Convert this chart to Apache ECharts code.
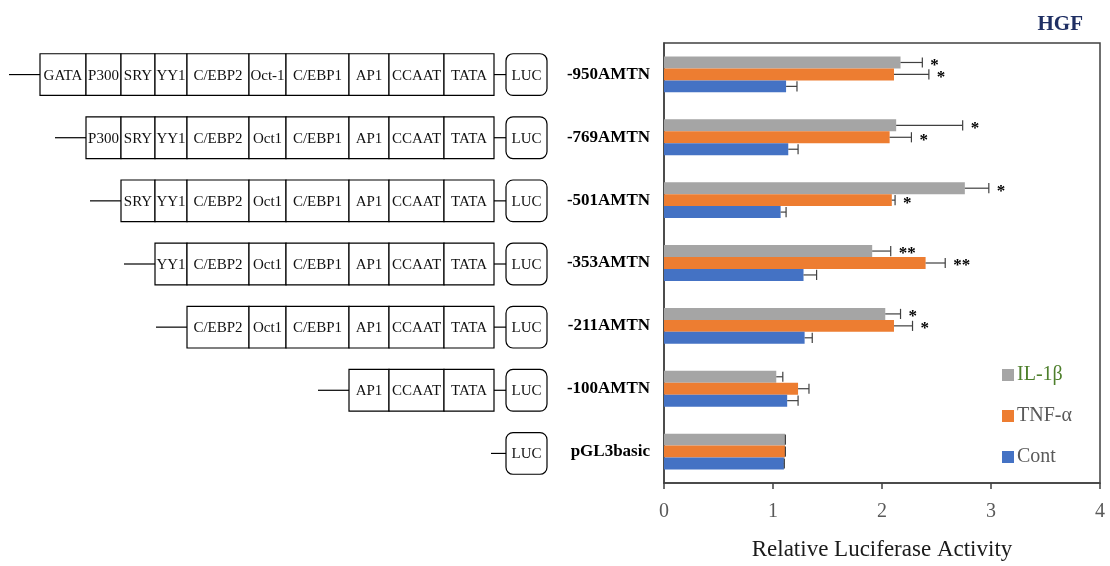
<!DOCTYPE html>
<html><head><meta charset="utf-8">
<script src="https://cdn.jsdelivr.net/npm/echarts@6/dist/echarts.min.js"></script>
<style>html,body{margin:0;padding:0;background:#fff}#c{width:1110px;height:566px}</style>
</head><body><div id="c"></div>
<script>
// ---------- data ----------
const constructs = ['-950AMTN','-769AMTN','-501AMTN','-353AMTN','-211AMTN','-100AMTN','pGL3basic'];
const contValues = [1.12, 1.14, 1.07, 1.28, 1.29, 1.13, 1.10];
const contErrors = [0.10, 0.09, 0.05, 0.12, 0.07, 0.10, 0.004];
const tnfValues  = [2.11, 2.07, 2.09, 2.40, 2.11, 1.23, 1.11];
const tnfErrors  = [0.32, 0.20, 0.03, 0.18, 0.17, 0.10, 0.004];
const ilValues   = [2.17, 2.13, 2.76, 1.91, 2.03, 1.03, 1.11];
const ilErrors   = [0.20, 0.61, 0.22, 0.17, 0.14, 0.06, 0.004];
const contSignif = ['', '', '', '', '', '', ''];
const tnfSignif  = ['*', '*', '*', '**', '*', '', ''];
const ilSignif   = ['*', '*', '*', '**', '*', '', ''];
const xTickValues = [0, 1, 2, 3, 4];
const seriesNames = ['IL-1β', 'TNF-α', 'Cont'];
// promoter schematic: elements in each construct (upstream -> TATA) and their schematic span
const promoterElements = ['GATA','P300','SRY','YY1','C/EBP2','Oct1','C/EBP1','AP1','CCAAT','TATA'];
const promoterSpans    = [46, 35, 34, 32, 62, 37, 63, 40, 55, 50];
const constructElements = [
  ['GATA','P300','SRY','YY1','C/EBP2','Oct-1','C/EBP1','AP1','CCAAT','TATA'],
  ['P300','SRY','YY1','C/EBP2','Oct1','C/EBP1','AP1','CCAAT','TATA'],
  ['SRY','YY1','C/EBP2','Oct1','C/EBP1','AP1','CCAAT','TATA'],
  ['YY1','C/EBP2','Oct1','C/EBP1','AP1','CCAAT','TATA'],
  ['C/EBP2','Oct1','C/EBP1','AP1','CCAAT','TATA'],
  ['AP1','CCAAT','TATA'],
  []
];
const reporterName = 'LUC';

// ---------- drawing ----------
const SERIF = '"Liberation Serif", "Times New Roman", serif';
const BAR_RATIO = 0.19;
const TATA_END = 494, LUC_START = 506, LUC_END = 547, LEADER = 31;

function spanOf(name) {
  return promoterSpans[promoterElements.indexOf(name.replace('-', ''))];
}

function renderConstruct(params, api) {
  const row = api.value(0);
  const names = constructElements[row];
  const bandH = api.size([0, 1])[1];
  const cy = api.coord([0, row])[1];
  const boxH = bandH * 0.66;
  const X = v => api.coord([v, row])[0];
  const ls = { stroke: '#000', lineWidth: 1.2, fill: null };
  const children = [];
  if (names.length) {
    const total = names.reduce((s, n) => s + spanOf(n), 0);
    let x = TATA_END - total;
    children.push({ type: 'line', shape: { x1: X(x - LEADER), y1: cy, x2: X(x), y2: cy }, style: ls });
    names.forEach(n => {
      const w = spanOf(n);
      children.push({ type: 'rect', shape: { x: X(x), y: cy - boxH / 2, width: X(x + w) - X(x), height: boxH },
        style: { fill: '#fff', stroke: '#000', lineWidth: 1.2 } });
      children.push({ type: 'text', x: (X(x) + X(x + w)) / 2, y: cy + 1,
        style: { text: n, align: 'center', verticalAlign: 'middle', fontSize: 15, fontFamily: SERIF, fill: '#111' } });
      x += w;
    });
    children.push({ type: 'line', shape: { x1: X(TATA_END), y1: cy, x2: X(LUC_START), y2: cy }, style: ls });
  } else {
    children.push({ type: 'line', shape: { x1: X(LUC_START - 15), y1: cy, x2: X(LUC_START), y2: cy }, style: ls });
  }
  children.push({ type: 'rect', shape: { x: X(LUC_START), y: cy - boxH / 2, width: X(LUC_END) - X(LUC_START), height: boxH, r: 7 },
    style: { fill: '#fff', stroke: '#000', lineWidth: 1.2 } });
  children.push({ type: 'text', x: (X(LUC_START) + X(LUC_END)) / 2, y: cy + 1,
    style: { text: reporterName, align: 'center', verticalAlign: 'middle', fontSize: 15, fontFamily: SERIF, fill: '#111' } });
  return { type: 'group', children };
}

function errorSeries(values, errors, signif, slot) {
  return {
    type: 'custom', xAxisIndex: 0, yAxisIndex: 0, z: 5, silent: true,
    data: values.map((v, i) => [v, i, errors[i]]),
    encode: { x: 0, y: 1 },
    renderItem: (params, api) => {
      const v = api.value(0), c = api.value(1), e = api.value(2);
      const bandH = api.size([0, 1])[1];
      const barH = bandH * BAR_RATIO;
      const p1 = api.coord([v, c]);
      const p2 = api.coord([v + e, c]);
      const cy = p1[1] + slot * barH;
      const cap = barH * 0.85;
      const st = { stroke: '#404040', lineWidth: 1.2 };
      const ch = [
        { type: 'line', shape: { x1: p1[0], y1: cy, x2: p2[0], y2: cy }, style: st },
        { type: 'line', shape: { x1: p2[0], y1: cy - cap / 2, x2: p2[0], y2: cy + cap / 2 }, style: st }
      ];
      const s = signif[c];
      if (s) {
        ch.push({ type: 'text', x: p2[0] + 8, y: cy + 3,
          style: { text: s, align: 'left', verticalAlign: 'middle', fontSize: 17, fontWeight: 'bold', fontFamily: SERIF, fill: '#000' } });
      }
      return { type: 'group', children: ch };
    }
  };
}

const colors = { 'IL-1β': '#A5A5A5', 'TNF-α': '#ED7D31', 'Cont': '#4472C4' };
const barValues = { 'IL-1β': ilValues, 'TNF-α': tnfValues, 'Cont': contValues };

const chart = echarts.init(document.getElementById('c'), null, { renderer: 'canvas' });
chart.setOption({
  animation: false,
  backgroundColor: '#fff',
  title: { text: 'HGF', right: 22, top: 9,
    textStyle: { fontFamily: SERIF, fontWeight: 'bold', fontSize: 21, color: '#1F2F63' } },
  legend: {
    orient: 'vertical', left: 997, top: 360, itemWidth: 12, itemHeight: 12, itemGap: 21,
    icon: 'rect',
    data: [
      { name: 'IL-1β', textStyle: { color: '#4E7F2C' } },
      { name: 'TNF-α' },
      { name: 'Cont' }
    ],
    textStyle: { fontFamily: SERIF, fontSize: 20, color: '#595959', lineHeight: 18, padding: [0, 0, 0, -2] }
  },
  grid: [
    { left: 664, right: 10, top: 43, bottom: 81, show: true, borderColor: '#404040', borderWidth: 1.5, containLabel: false },
    { left: 0, width: 547, top: 43, bottom: 81, containLabel: false }
  ],
  xAxis: [
    { type: 'value', gridIndex: 0, min: xTickValues[0], max: xTickValues[xTickValues.length - 1], interval: 1,
      splitLine: { show: false },
      axisLine: { show: true, lineStyle: { color: '#404040', width: 1.5 } },
      axisTick: { show: true, length: 6, lineStyle: { color: '#404040', width: 1.5 } },
      axisLabel: { fontFamily: SERIF, fontSize: 20, color: '#595959', margin: 19 },
      name: 'Relative Luciferase Activity', nameLocation: 'middle', nameGap: 55,
      nameTextStyle: { fontFamily: SERIF, fontSize: 23, color: '#1a1a1a' } },
    { type: 'value', gridIndex: 1, min: 0, max: 547, show: false }
  ],
  yAxis: [
    { type: 'category', gridIndex: 0, data: constructs, inverse: true,
      axisLine: { show: true, lineStyle: { color: '#404040', width: 1.5 } },
      axisTick: { show: false },
      axisLabel: { fontFamily: SERIF, fontWeight: 'bold', fontSize: 17, color: '#000', margin: 14 } },
    { type: 'category', gridIndex: 1, data: constructs, inverse: true, show: false }
  ],
  series: [
    ...seriesNames.map(n => ({
      type: 'bar', name: n, xAxisIndex: 0, yAxisIndex: 0,
      data: barValues[n], barWidth: (BAR_RATIO * 100) + '%', barGap: '0%',
      itemStyle: { color: colors[n] }
    })),
    errorSeries(ilValues, ilErrors, ilSignif, -1),
    errorSeries(tnfValues, tnfErrors, tnfSignif, 0),
    errorSeries(contValues, contErrors, contSignif, 1),
    { type: 'custom', xAxisIndex: 1, yAxisIndex: 1, silent: true,
      data: constructs.map((c, i) => [i]), encode: { y: 0 },
      renderItem: renderConstruct }
  ]
});
</script></body></html>
